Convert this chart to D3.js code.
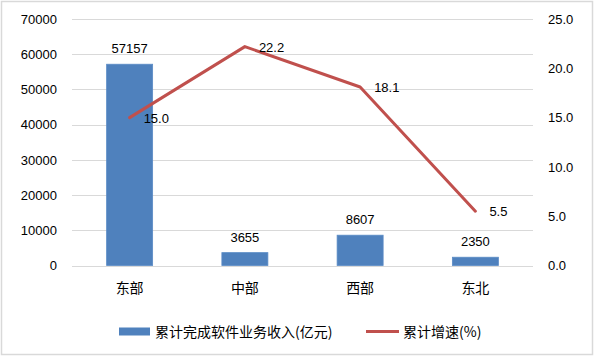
<!DOCTYPE html>
<html><head><meta charset="utf-8">
<script src="https://cdn.jsdelivr.net/npm/d3@7"></script>
<style>
html,body{margin:0;padding:0;background:#fff;}
text{font-family:"Liberation Sans","Noto Sans CJK SC",sans-serif;fill:#000;}
</style></head>
<body><svg id="c" width="595" height="359"></svg>
<script>
const categories = ["东部","中部","西部","东北"];
const revenue = [57157, 3655, 8607, 2350];
const growth = [15.0, 22.2, 18.1, 5.5];
const leftTicks = [0,10000,20000,30000,40000,50000,60000,70000];
const rightTicks = [0,5,10,15,20,25];
const legendLabels = ["累计完成软件业务收入(亿元)","累计增速(%)"];

const svg = d3.select("#c");
svg.append("rect").attr("x",1.5).attr("y",1.5).attr("width",591).attr("height",353)
  .attr("fill","#fff").attr("stroke","#d9d9d9").attr("stroke-width",1.5);

const L=72, R=533, T=19, B=265.5;
const x = d3.scaleBand().domain(categories).range([L,R]);
const yL = d3.scaleLinear().domain([0,70000]).range([B,T]);
const yR = d3.scaleLinear().domain([0,25]).range([B,T]);

// gridlines
svg.append("g").selectAll("line").data(leftTicks).join("line")
  .attr("x1",L).attr("x2",R).attr("y1",d=>Math.round(yL(d))+0.5).attr("y2",d=>Math.round(yL(d))+0.5)
  .attr("stroke","#d9d9d9").attr("stroke-width",1);

// left axis
const gl = svg.append("g").attr("transform",`translate(${L},0)`)
  .call(d3.axisLeft(yL).tickValues(leftTicks).tickSize(0).tickPadding(15).tickFormat(d3.format("d")));
gl.select(".domain").remove();
gl.selectAll("text").style("font-size","13px").style("font-family","Liberation Sans");

// right axis
const gr = svg.append("g").attr("transform",`translate(${R},0)`)
  .call(d3.axisRight(yR).tickValues(rightTicks).tickSize(0).tickPadding(15).tickFormat(d3.format(".1f")));
gr.select(".domain").remove();
gr.selectAll("text").style("font-size","13px").style("font-family","Liberation Sans");

// x axis labels
const gx = svg.append("g").attr("transform",`translate(0,${B})`)
  .call(d3.axisBottom(x).tickSize(0).tickPadding(18));
gx.select(".domain").remove();
gx.selectAll("text").style("font-size","14px").style("font-family","Noto Sans CJK SC");

// bars
const bw = 46;
svg.append("g").selectAll("rect").data(revenue).join("rect")
  .attr("x",(d,i)=>x(categories[i])+x.bandwidth()/2-bw/2)
  .attr("y",d=>yL(d)).attr("width",bw).attr("height",d=>B-yL(d))
  .attr("fill","#4f81bd").attr("stroke","#5b8cc6").attr("stroke-width",0.8);

svg.append("g").selectAll("text").data(revenue).join("text")
  .attr("x",(d,i)=>x(categories[i])+x.bandwidth()/2)
  .attr("y",d=>yL(d)-11)
  .attr("text-anchor","middle").style("font-size","13px").text(d=>d);

// line
const line = d3.line().x((d,i)=>x(categories[i])+x.bandwidth()/2).y(d=>yR(d));
svg.append("path").datum(growth).attr("d",line)
  .attr("fill","none").attr("stroke","#c0504d").attr("stroke-width",3).attr("stroke-linecap","round").attr("stroke-linejoin","round");

svg.append("g").selectAll("text").data(growth).join("text")
  .attr("x",(d,i)=>x(categories[i])+x.bandwidth()/2+14)
  .attr("y",d=>yR(d)+5)
  .style("font-size","13px").text(d=>d.toFixed(1));

// legend
const lg = svg.append("g");
lg.append("rect").attr("x",119).attr("y",327.5).attr("width",31).attr("height",8).attr("fill","#4f81bd");
lg.append("text").attr("x",155).attr("y",337).style("font-size","14px").style("font-family","Noto Sans CJK SC").text(legendLabels[0]);
lg.append("line").attr("x1",366).attr("x2",399).attr("y1",331.5).attr("y2",331.5).attr("stroke","#c0504d").attr("stroke-width",3);
lg.append("text").attr("x",403).attr("y",337).style("font-size","14px").style("font-family","Noto Sans CJK SC").text(legendLabels[1]);
</script></body></html>
